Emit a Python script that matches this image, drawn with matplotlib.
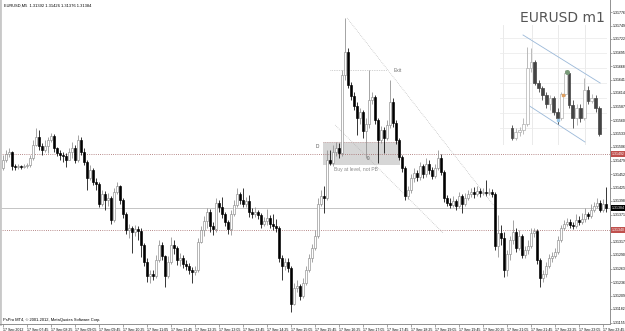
import numpy as np
import matplotlib
matplotlib.use("Agg")
import matplotlib.pyplot as plt
from matplotlib.transforms import blended_transform_factory

# ---------------- data (prices in points, 1 point = 0.00001) ----------------
first_open_pts = 131464
close_pts = [
    131480, 131492, 131496, 131468, 131466, 131468, 131466, 131468, 131470, 131484,
    131510, 131526, 131508, 131500, 131508, 131520, 131528, 131504, 131494, 131490,
    131488, 131480, 131496, 131504, 131480, 131520, 131496, 131476, 131444, 131460,
    131436, 131432, 131392, 131412, 131400, 131404, 131360, 131416, 131428, 131400,
    131372, 131340, 131344, 131336, 131342, 131338, 131310, 131276, 131248, 131252,
    131248, 131280, 131310, 131288, 131248, 131276, 131310, 131304, 131280, 131284,
    131272, 131268, 131260, 131256, 131260, 131316, 131340, 131358, 131376, 131348,
    131342, 131394, 131386, 131372, 131356, 131342, 131372, 131390, 131412, 131400,
    131392, 131398, 131376, 131372, 131376, 131370, 131352, 131358, 131364, 131352,
    131348, 131344, 131284, 131268, 131276, 131264, 131192, 131224, 131228, 131208,
    131234, 131260, 131284, 131304, 131328, 131392, 131408, 131404, 131480, 131474,
    131496, 131504, 131494, 131650, 131696, 131630, 131608, 131588, 131564, 131576,
    131538, 131552, 131600, 131606, 131560, 131520, 131540, 131524, 131550, 131596,
    131554, 131520, 131486, 131464, 131408, 131420, 131444, 131454, 131446, 131468,
    131452, 131472, 131460, 131448, 131464, 131484, 131456, 131404, 131394, 131390,
    131398, 131388, 131408, 131392, 131404, 131412, 131416, 131412, 131418, 131414,
    131416, 131414, 131416, 131412, 131308, 131334, 131324, 131260, 131292, 131320,
    131336, 131304, 131328, 131290, 131300, 131308, 131334, 131338, 131280, 131244,
    131252, 131268, 131284, 131288, 131296, 131320, 131344, 131352, 131356, 131350,
    131348, 131360, 131356, 131362, 131372, 131368, 131380, 131388, 131394, 131380,
    131392, 131384,
]
high_pts = [
    131490, 131500, 131504, 131498, 131472, 131472, 131470, 131472, 131474, 131490,
    131520, 131544, 131540, 131514, 131520, 131526, 131534, 131532, 131506, 131500,
    131496, 131494, 131504, 131516, 131510, 131530, 131526, 131504, 131480, 131470,
    131464, 131444, 131436, 131420, 131418, 131414, 131408, 131424, 131436, 131430,
    131404, 131376, 131352, 131348, 131350, 131348, 131344, 131314, 131284, 131260,
    131260, 131290, 131320, 131316, 131290, 131288, 131326, 131320, 131308, 131294,
    131290, 131280, 131274, 131266, 131268, 131324, 131348, 131368, 131384, 131382,
    131356, 131404, 131400, 131406, 131376, 131360, 131380, 131400, 131424, 131416,
    131424, 131406, 131410, 131384, 131386, 131380, 131374, 131366, 131382, 131370,
    131372, 131362, 131348, 131290, 131284, 131284, 131268, 131234, 131240, 131232,
    131244, 131268, 131292, 131312, 131340, 131404, 131420, 131428, 131500, 131500,
    131510, 131516, 131514, 131660, 131764, 131704, 131636, 131616, 131596, 131584,
    131580, 131564, 131660, 131616, 131610, 131564, 131548, 131546, 131560, 131640,
    131604, 131560, 131524, 131490, 131468, 131428, 131452, 131464, 131460, 131476,
    131472, 131484, 131480, 131466, 131472, 131500, 131492, 131460, 131410, 131404,
    131408, 131402, 131416, 131412, 131414, 131420, 131424, 131426, 131428, 131424,
    131424, 131440, 131424, 131422, 131416, 131370, 131350, 131336, 131300, 131328,
    131360, 131344, 131340, 131332, 131308, 131320, 131344, 131344, 131342, 131284,
    131260, 131276, 131292, 131296, 131304, 131328, 131350, 131360, 131364, 131362,
    131356, 131372, 131368, 131374, 131384, 131376, 131392, 131396, 131404, 131400,
    131402, 131426,
]
low_pts = [
    131460, 131476, 131486, 131460, 131460, 131462, 131462, 131464, 131464, 131466,
    131480, 131508, 131500, 131490, 131496, 131494, 131516, 131496, 131488, 131480,
    131476, 131466, 131480, 131484, 131474, 131476, 131490, 131470, 131420, 131440,
    131430, 131420, 131386, 131388, 131380, 131388, 131352, 131356, 131412, 131392,
    131364, 131332, 131324, 131294, 131328, 131320, 131286, 131268, 131236, 131234,
    131240, 131244, 131276, 131280, 131226, 131244, 131272, 131292, 131270, 131268,
    131264, 131260, 131252, 131234, 131250, 131256, 131314, 131328, 131344, 131336,
    131330, 131336, 131376, 131364, 131348, 131332, 131330, 131368, 131386, 131392,
    131386, 131386, 131366, 131364, 131366, 131362, 131344, 131348, 131350, 131344,
    131340, 131336, 131276, 131240, 131260, 131256, 131176, 131190, 131216, 131200,
    131204, 131230, 131256, 131276, 131300, 131324, 131388, 131374, 131400, 131470,
    131468, 131488, 131484, 131488, 131640, 131624, 131600, 131580, 131530, 131552,
    131524, 131484, 131544, 131592, 131552, 131474, 131514, 131494, 131520, 131544,
    131546, 131512, 131480, 131456, 131400, 131402, 131414, 131436, 131438, 131440,
    131444, 131446, 131452, 131442, 131444, 131460, 131450, 131396, 131388, 131384,
    131386, 131380, 131384, 131374, 131388, 131400, 131406, 131404, 131408, 131406,
    131410, 131408, 131410, 131406, 131300, 131286, 131310, 131246, 131248, 131280,
    131312, 131296, 131300, 131284, 131284, 131292, 131304, 131326, 131272, 131226,
    131236, 131246, 131264, 131276, 131284, 131292, 131316, 131340, 131348, 131344,
    131342, 131344, 131350, 131352, 131356, 131362, 131364, 131376, 131384, 131376,
    131376, 131376,
]

x_tick_labels = ["17 Sep 2012", "17 Sep 07:45", "17 Sep 08:25", "17 Sep 09:05",
                 "17 Sep 09:45", "17 Sep 10:25", "17 Sep 11:05", "17 Sep 11:45",
                 "17 Sep 12:25", "17 Sep 13:05", "17 Sep 13:45", "17 Sep 14:25",
                 "17 Sep 15:05", "17 Sep 15:45", "17 Sep 16:25", "17 Sep 17:05",
                 "17 Sep 17:45", "17 Sep 18:25", "17 Sep 19:05", "17 Sep 19:45",
                 "17 Sep 20:25", "17 Sep 21:05", "17 Sep 21:45", "17 Sep 22:25",
                 "17 Sep 23:05", "17 Sep 23:45"]
bars_per_label = 8

level_upper = 1.31492
level_lower = 1.31340
bid_price = 1.31384
box_top, box_bottom = 1.31516, 1.31470
exit_price = 1.31660

# inset (m1) candles, points
inset_first_open = 131472
inset_close = [131462, 131468, 131470, 131476, 131532, 131538, 131517, 131512,
               131505, 131496, 131502, 131488, 131482, 131506, 131527, 131495,
               131482, 131492, 131482, 131510, 131499, 131502, 131492, 131466]
inset_high = [131475, 131472, 131473, 131482, 131553, 131552, 131540, 131520,
              131514, 131508, 131505, 131504, 131492, 131508, 131530, 131528,
              131500, 131496, 131496, 131522, 131514, 131506, 131505, 131494]
inset_low = [131460, 131460, 131464, 131466, 131474, 131528, 131515, 131508,
             131500, 131492, 131490, 131485, 131476, 131480, 131504, 131492,
             131472, 131475, 131478, 131480, 131496, 131497, 131488, 131464]

# ---------------- figure ----------------
W, H = 625, 331
plt.rcParams["font.family"] = ["Liberation Sans", "DejaVu Sans"]
fig = plt.figure(figsize=(W / 100, H / 100), dpi=100)
fig.patch.set_facecolor("white")

def fx(px):
    return px / W

def fy(py):
    return 1 - py / H

ax = fig.add_axes([0, fy(324), fx(610), 324 / H])

closes = np.array(close_pts) / 1e5
highs = np.array(high_pts) / 1e5
lows = np.array(low_pts) / 1e5
opens = np.concatenate([[first_open_pts / 1e5], closes[:-1]])
hi = np.maximum(highs, np.maximum(opens, closes))
lo = np.minimum(lows, np.minimum(opens, closes))
idx = np.arange(len(closes))
up = closes >= opens
bottom = np.minimum(opens, closes)
height = np.maximum(np.abs(closes - opens), 0.000012)

ax.vlines(idx[up], lo[up], hi[up], color="#8c8c8c", lw=0.55, zorder=2)
ax.vlines(idx[~up], lo[~up], hi[~up], color="black", lw=0.55, zorder=2)
ax.bar(idx[up], height[up], bottom=bottom[up], width=0.62, color="white",
       edgecolor="#8c8c8c", linewidth=0.45, zorder=3)
ax.bar(idx[~up], height[~up], bottom=bottom[~up], width=0.62, color="black",
       edgecolor="black", linewidth=0.45, zorder=3)

ax.set_xlim(-1, 202.333)
ax.set_ylim(1.31152, 1.31800)

# level lines
ax.axhline(level_upper, color="#a06464", lw=0.6, ls=(0, (1, 1.6)), zorder=1)
ax.axhline(level_lower, color="#a06464", lw=0.6, ls=(0, (1, 1.6)), zorder=1)
ax.axhline(bid_price, color="#c4c4c4", lw=0.7, zorder=1)

# annotation box
ax.fill_between([106.7, 132.3], box_bottom, box_top, color="#d6d6d6", zorder=0.5, lw=0)
ax.plot([106.7, 132.3], [box_top, box_top], color="#c89090", lw=0.5, ls=(0, (1, 1.5)), zorder=1)
ax.text(104.7, 1.31506, "D", fontsize=3.4, color="#555555", ha="center", va="center")
ax.text(121.7, 1.31484, "0", fontsize=3.4, color="#555555", ha="center", va="center")
ax.text(110.3, 1.31460, "Buy at level, not PB", fontsize=3.6, color="#8a8a8a",
        ha="left", va="center")
ax.plot([109, 128], [exit_price, exit_price], color="#a8a8a8", lw=0.5, ls=(0, (1, 1.5)))
ax.text(130.3, exit_price, "Exit", fontsize=3.6, color="#777777", ha="left", va="center")

# diagonal dotted lines
ax.plot([114.7, 164.0], [1.31764, 1.31386], color="#b0b0b0", lw=0.5, ls=(0, (1, 1.6)))
ax.plot([110.7, 146.7], [1.31550, 1.31334], color="#b0b0b0", lw=0.5, ls=(0, (1, 1.6)))

# axes styling
ax.spines["top"].set_visible(False)
ax.spines["left"].set_color("#c8c8c8")
ax.spines["left"].set_linewidth(2.0)
ax.spines["right"].set_color("#909090")
ax.spines["right"].set_linewidth(0.7)
ax.spines["bottom"].set_color("#909090")
ax.spines["bottom"].set_linewidth(0.7)

ax.set_xticks(np.arange(len(x_tick_labels)) * bars_per_label)
ax.set_xticklabels(x_tick_labels, fontsize=2.6, ha="left")
ax.tick_params(axis="x", length=2, width=0.4, pad=0.8, color="#606060")

highlights = [(level_upper, "#c0504d"), (bid_price, "black"), (level_lower, "#c0504d")]
yticks = np.arange(131776, 131150, -27) / 1e5
ax.yaxis.tick_right()
ax.set_yticks(yticks)
ylabels = []
for v in yticks:
    near = any(abs(v - h) < 0.00009 for h, _ in highlights)
    ylabels.append("" if near else f"{v:.5f}")
ax.set_yticklabels(ylabels, fontsize=2.5)
ax.tick_params(axis="y", length=1.5, width=0.4, pad=0.6, color="#606060")

tr = blended_transform_factory(ax.transAxes, ax.transData)
for val, fc in highlights:
    ax.text(1.0035, val, f"{val:.5f}", transform=tr, fontsize=2.5, color="white",
            ha="left", va="center",
            bbox=dict(boxstyle="square,pad=0.3", fc=fc, ec="none"))

# header and footer
fig.text(fx(4), fy(6), "EURUSD,M5  1.31392 1.31426 1.31376 1.31384", fontsize=2.9,
         color="black", ha="left", va="center")
fig.text(fx(3), fy(320), "PsPro MT4, \u00a9 2001-2012, MetaQuotes Software Corp.",
         fontsize=2.9, color="black", ha="left", va="center")

# ---------------- inset ----------------
ix = fig.add_axes([fx(500), fy(145), fx(107), 120 / H])
ic = np.array(inset_close) / 1e5
ih = np.array(inset_high) / 1e5
il = np.array(inset_low) / 1e5
io = np.concatenate([[inset_first_open / 1e5], ic[:-1]])
ih = np.maximum(ih, np.maximum(io, ic))
il = np.minimum(il, np.minimum(io, ic))
j = np.arange(len(ic))
iup = ic >= io
ib = np.minimum(io, ic)
iht = np.maximum(np.abs(ic - io), 0.000012)
ix.set_facecolor("none")
for gx in [-2.4, 5.3, 12.1, 19.2]:
    ix.axvline(gx, color="#e6e6e6", lw=0.6, zorder=0)
for gy in np.arange(131562, 131460, -15) / 1e5:
    ix.axhline(gy, color="#ececec", lw=0.6, zorder=0)
ix.vlines(j[iup], il[iup], ih[iup], color="#b0b0b0", lw=0.6, zorder=2)
ix.vlines(j[~iup], il[~iup], ih[~iup], color="#444444", lw=0.6, zorder=2)
ix.bar(j[iup], iht[iup], bottom=ib[iup], width=0.7, color="white",
       edgecolor="#b0b0b0", linewidth=0.5, zorder=3)
ix.bar(j[~iup], iht[~iup], bottom=ib[~iup], width=0.7, color="#444444",
       edgecolor="#444444", linewidth=0.5, zorder=3)
ix.plot([2.9, 23.2], [1.31565, 1.31517], color="#9ab8d8", lw=0.6, zorder=1)
ix.plot([4.2, 19.2], [1.31495, 1.31458], color="#9ab8d8", lw=0.6, zorder=1)
ix.plot([14.5], [1.31528], "o", ms=2.6, color="#7a9a7a", zorder=4)
ix.plot([13.4], [1.31505], "s", ms=1.6, color="#e0a060", zorder=4)
ix.plot([12.1], [1.31480], "s", ms=2.0, color="#9cc8e8", zorder=4)
ix.set_xlim(-3.16, 25)
ix.set_ylim(1.31455, 1.31575)
ix.axis("off")

fig.text(fx(605), fy(18), "EURUSD m1", fontsize=10, color="#555555",
         family="DejaVu Sans", ha="right", va="center")

fig.savefig("out.png", dpi=100)
